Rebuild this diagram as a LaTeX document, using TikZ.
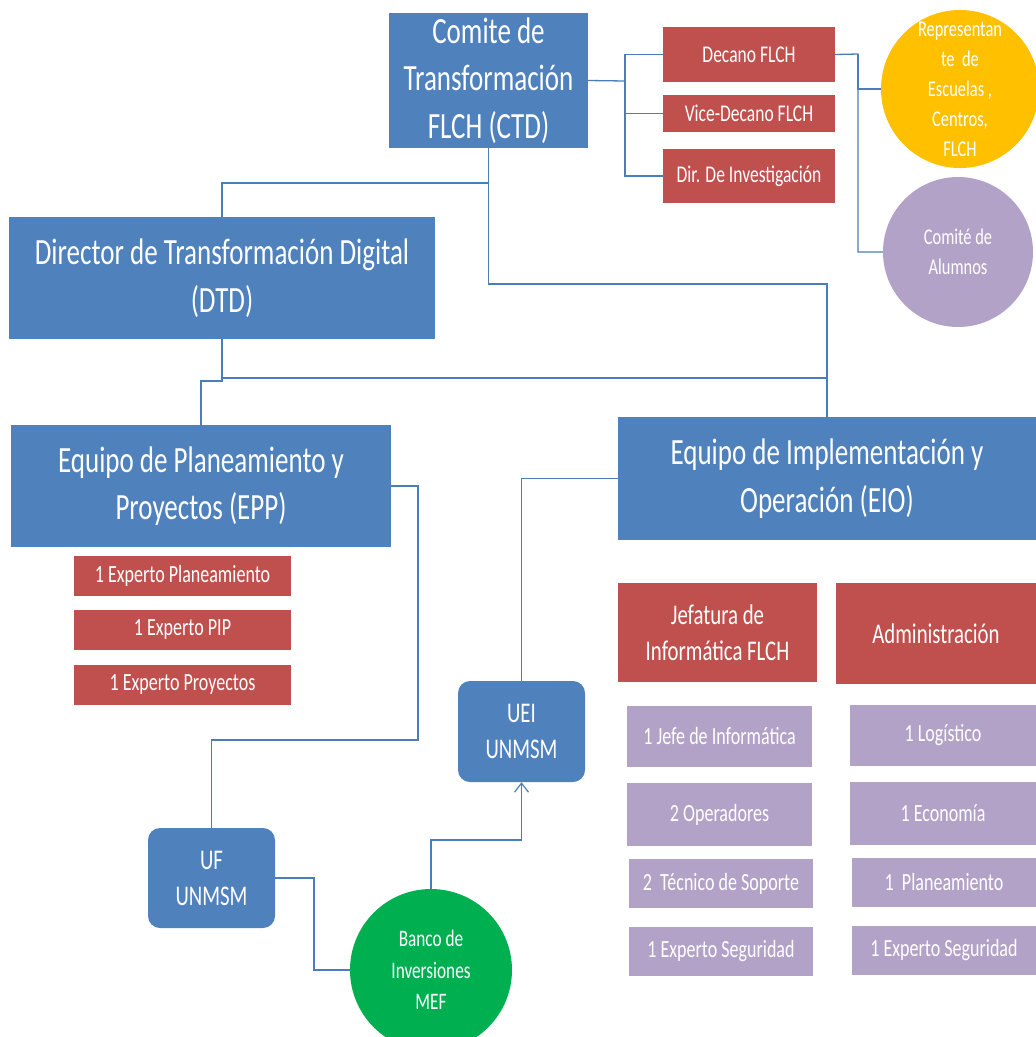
\documentclass[tikz,border=0pt]{standalone}
\usepackage{fontspec}
\setmainfont{Carlito}[FakeStretch=0.73]
\usetikzlibrary{arrows.meta}
\definecolor{cblue}{HTML}{4F81BD}
\definecolor{cred}{HTML}{C0504D}
\definecolor{cpur}{HTML}{B3A2C7}
\definecolor{cyel}{HTML}{FFC000}
\definecolor{cgrn}{HTML}{00B050}
\definecolor{linec}{HTML}{4A7EBB}
\begin{document}
\begin{tikzpicture}[x=1pt,y=-1pt,
  conn/.style={draw=linec, line width=1.3pt},
  shp/.style={inner sep=0pt, align=center, text=white, draw=none},
  bluebox/.style={shp, fill=cblue},
  redbox/.style={shp, fill=cred},
  purbox/.style={shp, fill=cpur},
  rbox/.style={shp, fill=cblue, rounded corners=12pt},
  big/.style={font=\fontsize{37}{47.5}\selectfont},
  mid/.style={font=\fontsize{28.5}{36}\selectfont},
  small/.style={font=\fontsize{24}{30}\selectfont},
  item/.style={font=\fontsize{24.7}{30}\selectfont},
  circ/.style={font=\fontsize{22.5}{30}\selectfont}
]
\useasboundingbox (0,0) rectangle (1036,1037);
\fill[white] (0,0) rectangle (1036,1037);

% nodes
\node[bluebox, big, minimum width=199pt, minimum height=135pt] (ctd) at (488.5,80.5) {Comite de\\Transformación\\FLCH (CTD)};
\node[redbox, small, minimum width=172pt, minimum height=55pt] (decano) at (749,54.5) {Decano FLCH};
\node[redbox, small, minimum width=172pt, minimum height=37pt] (vice) at (749,113.5) {Vice-Decano FLCH};
\node[redbox, small, minimum width=172pt, minimum height=54pt] (dir) at (749,176) {Dir. De Investigación};
\node[shp, circle, fill=cyel, circ, minimum size=154pt] (rep) at (960,89) {Representan\\te\ \ de\\Escuelas ,\\Centros,\\FLCH};
\node[shp, circle, fill=cpur, circ, minimum size=150pt] (alum) at (958,252) {Comité de\\Alumnos};

\node[bluebox, big, minimum width=426pt, minimum height=122pt] (dtd) at (222,278) {Director de Transformación Digital\\(DTD)};
\node[bluebox, big, minimum width=380pt, minimum height=122pt] (epp) at (201,486) {Equipo de Planeamiento y\\Proyectos (EPP)};
\node[redbox, item, minimum width=217pt, minimum height=40pt] (e1) at (182.5,576) {1 Experto Planeamiento};
\node[redbox, item, minimum width=217pt, minimum height=40pt] (e2) at (182.5,630) {1 Experto PIP};
\node[redbox, item, minimum width=217pt, minimum height=40pt] (e3) at (182.5,685) {1 Experto Proyectos};

\node[rbox, mid, minimum width=127pt, minimum height=100pt] (uf) at (211.5,878) {UF\\UNMSM};
\node[rbox, mid, minimum width=127pt, minimum height=101pt] (uei) at (521.5,731.5) {UEI\\UNMSM};
\node[shp, circle, fill=cgrn, font=\fontsize{23.6}{31.5}\selectfont, minimum size=162pt] (banco) at (431,970) {Banco de\\Inversiones\\MEF};

\node[bluebox, big, minimum width=418pt, minimum height=123pt] (eio) at (827,478.5) {Equipo de Implementación y\\Operación (EIO)};
\node[redbox, mid, minimum width=199pt, minimum height=99pt] (jef) at (717.5,632.5) {Jefatura de\\Informática FLCH};
\node[redbox, mid, minimum width=200pt, minimum height=101pt] (adm) at (936,633.5) {Administración};

\node[purbox, item, minimum width=185pt, minimum height=61pt] (p1) at (719.5,736.5) {1 Jefe de Informática};
\node[purbox, item, minimum width=185pt, minimum height=63pt] (p2) at (719.5,814.5) {2 Operadores};
\node[purbox, item, minimum width=184pt, minimum height=49pt] (p3) at (721,883.5) {2\ \ Técnico de Soporte};
\node[purbox, item, minimum width=184pt, minimum height=49pt] (p4) at (721,951.5) {1 Experto Seguridad};
\node[purbox, item, minimum width=186pt, minimum height=61pt] (q1) at (943,735.5) {1 Logístico};
\node[purbox, item, minimum width=186pt, minimum height=63pt] (q2) at (943,813.5) {1 Economía};
\node[purbox, item, minimum width=184pt, minimum height=49pt] (q3) at (944,882.5) {1\ \ Planeamiento};
\node[purbox, item, minimum width=184pt, minimum height=49pt] (q4) at (944,950.5) {1 Experto Seguridad};

% junction coordinates
\coordinate (j1) at (625,81);
\coordinate (j2) at (858,54);
\coordinate (j3) at (488.5,183);
\coordinate (j4) at (488.5,284);
\coordinate (j5) at (222,378);
\coordinate (j6) at (222,381);
\coordinate (j7) at (418,740);
\coordinate (j8) at (314,920);
\coordinate (j9) at (431,840);

% connectors
\draw[conn] (ctd.east) -- (j1);
\draw[conn] (j1) |- (decano.west);
\draw[conn] (j1) |- (vice.west);
\draw[conn] (j1) |- (dir.west);
\draw[conn] (decano.east) -- (j2) |- (alum.west);
\draw[conn] (j2) |- (rep.west);
\draw[conn] (ctd.south) -- (j3) -| (dtd.north);
\draw[conn] (j3) -- (j4) -| (eio.north);
\draw[conn] (dtd.south) -- (j5) -| (eio.north);
\draw[conn] (j5) -- (j6) -| (epp.north);
\draw[conn] (epp.east) -| (j7) -| (uf.north);
\draw[conn] (uf.east) -| (j8) |- (banco.west);
\draw[conn, -{Straight Barb[length=9pt,width=14pt,line width=1.2pt]}] (banco.north) -- (j9) -| (uei.south);
\draw[conn] (uei.north) |- (eio.west);
\end{tikzpicture}
\end{document}
